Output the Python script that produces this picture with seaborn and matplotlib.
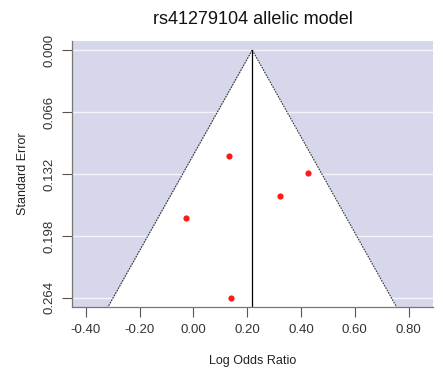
import matplotlib
matplotlib.use("Agg")
import matplotlib.pyplot as plt
import seaborn as sns
import numpy as np
import pandas as pd

log_or = [0.133, 0.425, 0.321, -0.027, 0.141]
std_err = [0.1125, 0.131, 0.156, 0.179, 0.2643]
summary_est = 0.219
x_ticks = [-0.40, -0.20, 0.00, 0.20, 0.40, 0.60, 0.80]
y_ticks = [0.000, 0.066, 0.132, 0.198, 0.264]
title = "rs41279104 allelic model"

sns.set_theme(style="white")
plt.rcParams['font.family'] = ['Liberation Sans', 'DejaVu Sans']

df = pd.DataFrame({"lor": log_or, "se": std_err})

fig = plt.figure(figsize=(4.44, 3.70), dpi=100)
ax = fig.add_axes([72/444, 1 - 307/370, (433-72)/444, (307-41)/370])

ylim_lo, ylim_hi = -0.0096, 0.2737
xlim_lo, xlim_hi = -0.451, 0.891
ax.set_facecolor("#d7d7eb")
for yt in y_ticks:
    ax.axhline(yt, color="#f4f4fa", lw=1.0, zorder=0.5)

se_line = np.array([0.0, ylim_hi])
ax.fill_betweenx(se_line, summary_est - 1.96 * se_line, summary_est + 1.96 * se_line,
                 color="white", zorder=1, lw=0)
ax.plot(summary_est - 1.96 * se_line, se_line, color="#333333", lw=0.8, ls=(0, (1.5, 1)), zorder=2)
ax.plot(summary_est + 1.96 * se_line, se_line, color="#333333", lw=0.8, ls=(0, (1.5, 1)), zorder=2)
ax.plot([summary_est, summary_est], [0, ylim_hi], color="black", lw=0.9, zorder=2)

sns.scatterplot(data=df, x="lor", y="se", ax=ax, color="#ff1a1a", s=20,
                edgecolor="#ff1a1a", linewidth=0, zorder=3, legend=False)

ax.set_xlim(xlim_lo, xlim_hi)
ax.set_ylim(ylim_hi, ylim_lo)
ax.set_xticks(x_ticks)
ax.set_xticklabels([f"{v:.2f}" for v in x_ticks])
ax.set_yticks(y_ticks)
ax.set_yticklabels([f"{v:.3f}" for v in y_ticks], rotation=90, va="center")
ax.tick_params(axis="both", direction="out", length=7, width=0.8, color="#555555",
               labelsize=9.5, labelcolor="#333333", pad=5, bottom=True, left=True)
for s in ["top", "right"]:
    ax.spines[s].set_visible(False)
for s in ["left", "bottom"]:
    ax.spines[s].set_color("#777777")
    ax.spines[s].set_linewidth(0.9)
ax.set_xlabel("Log Odds Ratio", fontsize=9, color="#222222", labelpad=14)
ax.set_ylabel("Standard Error", fontsize=9, color="#222222", labelpad=10)
ax.set_title(title, fontsize=13, color="#111111", pad=12)
ax.grid(False)

fig.savefig("out.png", dpi=100)
